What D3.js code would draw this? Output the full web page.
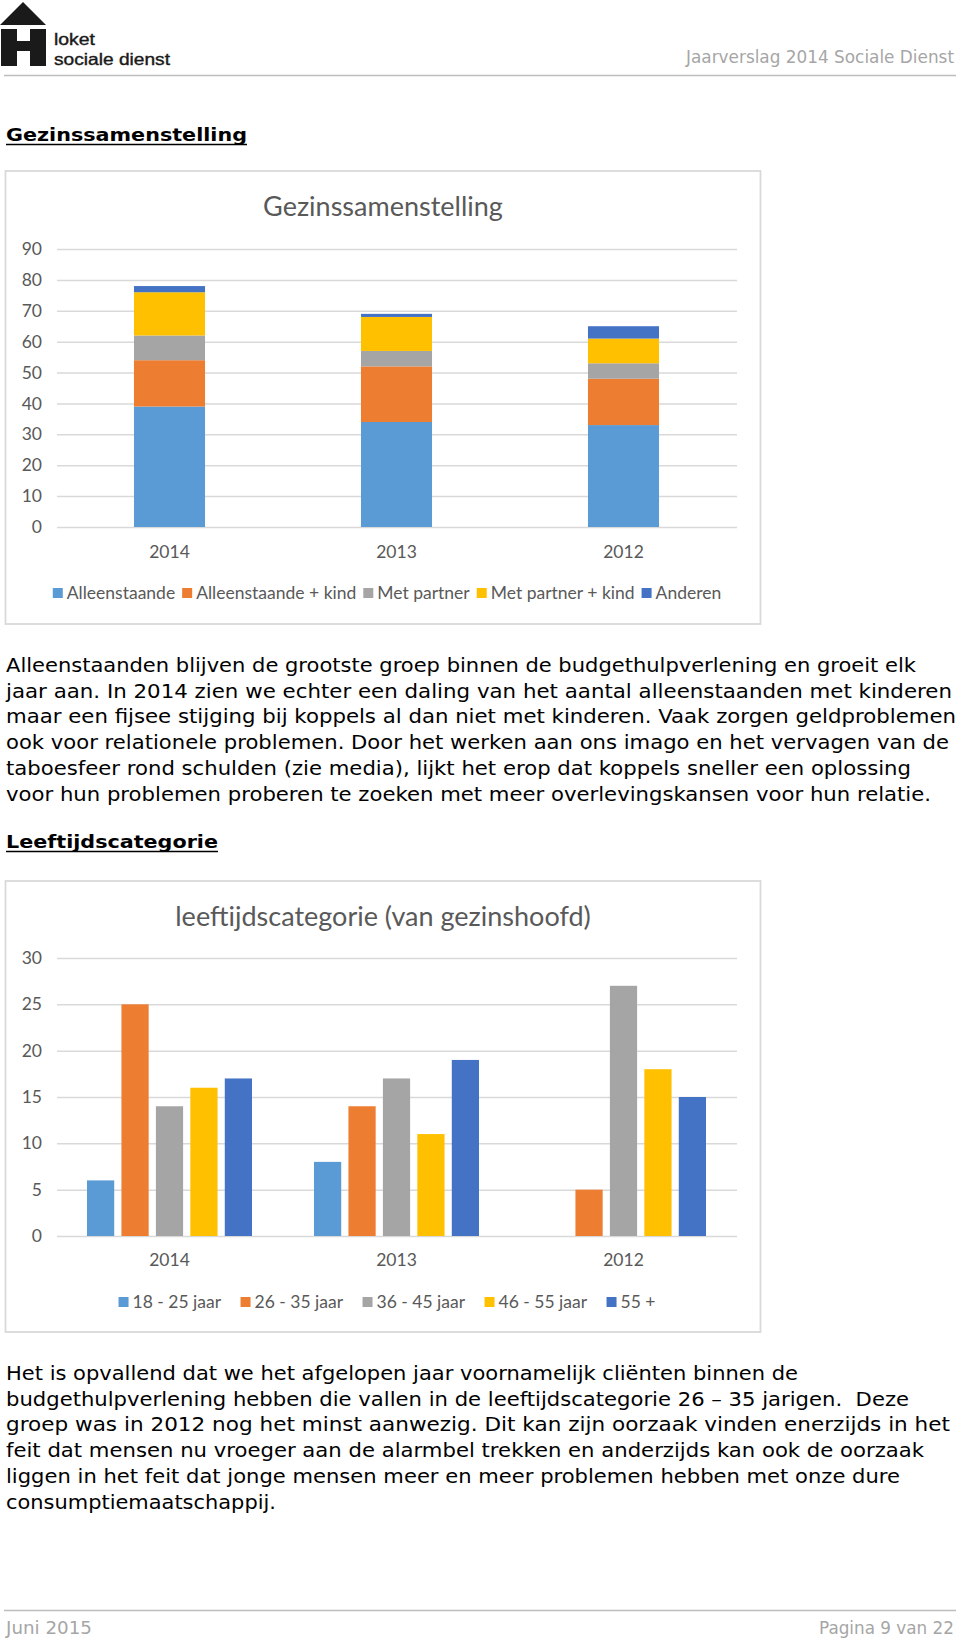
<!DOCTYPE html>
<html><head><meta charset="utf-8">
<script src="https://cdn.jsdelivr.net/npm/d3@7"></script>
<style>
html,body{margin:0;padding:0;background:#fff;}
svg{display:block;}
</style></head><body>
<svg id="page" width="960" height="1639"></svg>
<script>
// ---------- DATA ----------
const years = ["2014", "2013", "2012"];

const householdTypes = ["Alleenstaande", "Alleenstaande + kind", "Met partner", "Met partner + kind", "Anderen"];
const alleenstaande     = [39, 34, 33];
const alleenstaandeKind = [15, 18, 15];
const metPartner        = [8, 5, 5];
const metPartnerKind    = [14, 11, 8];
const anderen           = [2, 1, 4];
const householdTicks    = [0, 10, 20, 30, 40, 50, 60, 70, 80, 90];

const ageGroups = ["18 - 25 jaar", "26 - 35 jaar", "36 - 45 jaar", "46 - 55 jaar", "55 +"];
const age18to25 = [6, 8, 0];
const age26to35 = [25, 14, 5];
const age36to45 = [14, 17, 27];
const age46to55 = [16, 11, 18];
const age55plus = [17, 19, 15];
const ageTicks  = [0, 5, 10, 15, 20, 25, 30];

const seriesColors = ["#5B9BD5", "#ED7D31", "#A5A5A5", "#FFC000", "#4472C4"];

// ---------- PAGE TEXT ----------
const para1 = [
  ["Alleenstaanden blijven de grootste groep binnen de budgethulpverlening en groeit elk", 910],
  ["jaar aan. In 2014 zien we echter een daling van het aantal alleenstaanden met kinderen", 946],
  ["maar een fijsee stijging bij koppels al dan niet met kinderen. Vaak zorgen geldproblemen", 950],
  ["ook voor relationele problemen. Door het werken aan ons imago en het vervagen van de", 943],
  ["taboesfeer rond schulden (zie media), lijkt het erop dat koppels sneller een oplossing", 905],
  ["voor hun problemen proberen te zoeken met meer overlevingskansen voor hun relatie.", 925]
];
const para2 = [
  ["Het is opvallend dat we het afgelopen jaar voornamelijk cliënten binnen de", 792],
  ["budgethulpverlening hebben die vallen in de leeftijdscategorie 26 \u2013 35 jarigen.\u00a0 Deze", 903],
  ["groep was in 2012 nog het minst aanwezig. Dit kan zijn oorzaak vinden enerzijds in het", 944],
  ["feit dat mensen nu vroeger aan de alarmbel trekken en anderzijds kan ook de oorzaak", 918],
  ["liggen in het feit dat jonge mensen meer en meer problemen hebben met onze dure", 894],
  ["consumptiemaatschappij.", 270]
];

const svg = d3.select("#page");
svg.append("rect").attr("width", 960).attr("height", 1639).attr("fill", "#fff");

const BODY = "'DejaVu Sans', Verdana, sans-serif";
const CHART = "Lato, Calibri, 'Open Sans', sans-serif";

// ---------- HEADER ----------
const logo = svg.append("g").attr("fill", "#1a1a1a");
logo.append("path").attr("d", "M23,2 L46,25 L0,25 Z");
logo.append("path").attr("d", "M1,29 H17 V41 H30 V29 H46 V66 H30 V51 H17 V66 H1 Z");
logo.append("text").attr("x", 54).attr("y", 45).attr("font-family", "'Liberation Sans', Arial, sans-serif")
  .attr("font-size", 16.5).attr("stroke", "#1a1a1a").attr("stroke-width", 0.4)
  .attr("textLength", 41).attr("lengthAdjust", "spacingAndGlyphs").text("loket");
logo.append("text").attr("x", 54).attr("y", 64.5).attr("font-family", "'Liberation Sans', Arial, sans-serif")
  .attr("font-size", 16.5).attr("stroke", "#1a1a1a").attr("stroke-width", 0.4)
  .attr("textLength", 116).attr("lengthAdjust", "spacingAndGlyphs").text("sociale dienst");

svg.append("text").attr("x", 954).attr("y", 63).attr("text-anchor", "end")
  .attr("font-family", BODY).attr("font-size", 17).attr("fill", "#a6a6a6")
  .attr("textLength", 268).attr("lengthAdjust", "spacingAndGlyphs")
  .text("Jaarverslag 2014 Sociale Dienst");
svg.append("line").attr("x1", 4).attr("x2", 956).attr("y1", 75.5).attr("y2", 75.5)
  .attr("stroke", "#bdbdbd").attr("stroke-width", 1.5);

// ---------- HEADINGS / PARAGRAPHS ----------
function heading(text, y, width) {
  svg.append("text").attr("x", 6).attr("y", y).attr("font-family", BODY).attr("font-weight", "bold")
    .attr("font-size", 18.5).attr("fill", "#000")
    .attr("textLength", width).attr("lengthAdjust", "spacingAndGlyphs").text(text);
  svg.append("line").attr("x1", 6).attr("x2", 6 + width).attr("y1", y + 3.5).attr("y2", y + 3.5)
    .attr("stroke", "#000").attr("stroke-width", 1.6);
}
heading("Gezinssamenstelling", 141, 241);
heading("Leeftijdscategorie", 848, 212);

function paragraph(lines, y0) {
  lines.forEach((l, i) => {
    svg.append("text").attr("x", 6).attr("y", y0 + i * 25.7).attr("font-family", BODY)
      .attr("font-size", 19).attr("fill", "#000")
      .attr("textLength", l[1]).attr("lengthAdjust", "spacingAndGlyphs").text(l[0]);
  });
}
paragraph(para1, 672);
paragraph(para2, 1380);

// ---------- FOOTER ----------
svg.append("line").attr("x1", 4).attr("x2", 956).attr("y1", 1610.5).attr("y2", 1610.5)
  .attr("stroke", "#bdbdbd").attr("stroke-width", 1.5);
svg.append("text").attr("x", 6).attr("y", 1634).attr("font-family", BODY).attr("font-size", 17)
  .attr("fill", "#a6a6a6").attr("textLength", 86).attr("lengthAdjust", "spacingAndGlyphs").text("Juni 2015");
svg.append("text").attr("x", 954).attr("y", 1634).attr("text-anchor", "end").attr("font-family", BODY).attr("font-size", 17)
  .attr("fill", "#a6a6a6").attr("textLength", 135).attr("lengthAdjust", "spacingAndGlyphs").text("Pagina 9 van 22");

// ---------- CHART HELPERS ----------
const plotX0 = 57, plotX1 = 737;
const LBL = 17.5;

function frame(top, bottom, title, titleY) {
  svg.append("rect").attr("x", 5.5).attr("y", top).attr("width", 755).attr("height", bottom - top)
    .attr("fill", "#fff").attr("stroke", "#d9d9d9").attr("stroke-width", 1.8);
  svg.append("text").attr("x", 383).attr("y", titleY).attr("text-anchor", "middle")
    .attr("font-family", CHART).attr("font-size", 27).attr("fill", "#595959").text(title);
}

function axes(g, x, y, ticks, xLabelY) {
  const ya = g.append("g").attr("transform", `translate(${plotX0},0)`)
    .call(d3.axisLeft(y).tickValues(ticks).tickSize(-(plotX1 - plotX0)).tickPadding(15).tickFormat(d3.format("d")));
  ya.select(".domain").remove();
  ya.selectAll("line").attr("stroke", "#d9d9d9").attr("stroke-width", 1.5);
  ya.selectAll("text").attr("font-family", CHART).attr("font-size", LBL).attr("fill", "#595959");

  const xa = g.append("g").attr("transform", `translate(0,${y(0)})`)
    .call(d3.axisBottom(x).tickSize(0));
  xa.select(".domain").remove();
  xa.selectAll("text").attr("y", xLabelY - y(0)).attr("dy", 0)
    .attr("font-family", CHART).attr("font-size", LBL).attr("fill", "#595959");
}

function legend(g, names, cy, mode, slot) {
  const lg = g.append("g");
  const items = lg.selectAll("g").data(names).join("g");
  items.append("rect").attr("width", 10).attr("height", 10).attr("y", cy - 5)
    .attr("fill", (d, i) => seriesColors[i]);
  items.append("text").attr("x", 14).attr("y", cy + 6).attr("font-family", CHART)
    .attr("font-size", LBL).attr("fill", "#595959").text(d => d);
  const widths = [];
  items.each(function() { widths.push(14 + d3.select(this).select("text").node().getComputedTextLength()); });
  let pos = [], acc = 0;
  widths.forEach((w, i) => { pos.push(acc); acc += (mode === "fixed" ? slot : w + 7); });
  const total = mode === "fixed" ? slot * (names.length - 1) + widths[widths.length - 1] : acc - 7;
  const start = 387 - total / 2;
  items.attr("transform", (d, i) => `translate(${start + pos[i]},0)`);
}

// ---------- CHART 1: stacked ----------
{
  frame(171, 624, "Gezinssamenstelling", 216);
  const g = svg.append("g");
  const x = d3.scaleBand().domain(years).range([56, 737]).padding(0);
  const y = d3.scaleLinear().domain([0, 90]).range([527, 249]);
  axes(g, x, y, householdTicks, 558);

  const seriesArrays = [alleenstaande, alleenstaandeKind, metPartner, metPartnerKind, anderen];
  const rows = years.map((yr, i) => {
    const r = { year: yr };
    householdTypes.forEach((k, j) => r[k] = seriesArrays[j][i]);
    return r;
  });
  const stacked = d3.stack().keys(householdTypes)(rows);
  const bw = x.bandwidth() * 0.313;
  g.selectAll("g.s").data(stacked).join("g").attr("class", "s")
    .attr("fill", (d, i) => seriesColors[i])
    .selectAll("rect").data(d => d).join("rect")
    .attr("x", d => x(d.data.year) + x.bandwidth() / 2 - bw / 2)
    .attr("width", bw)
    .attr("y", d => y(d[1]))
    .attr("height", d => y(d[0]) - y(d[1]));
  legend(g, householdTypes, 593, "natural");
}

// ---------- CHART 2: grouped ----------
{
  frame(881, 1332, "leeftijdscategorie (van gezinshoofd)", 926);
  const g = svg.append("g");
  const x = d3.scaleBand().domain(years).range([56, 737]).padding(0);
  const y = d3.scaleLinear().domain([0, 30]).range([1236, 958]);
  axes(g, x, y, ageTicks, 1266);

  const seriesArrays = [age18to25, age26to35, age36to45, age46to55, age55plus];
  const inner = d3.scaleBand().domain(ageGroups).range([-82.5, 82.5]).paddingInner(0.21).paddingOuter(0);
  ageGroups.forEach((grp, j) => {
    g.append("g").attr("fill", seriesColors[j])
      .selectAll("rect").data(years.map((yr, i) => ({ year: yr, v: seriesArrays[j][i] })).filter(d => d.v > 0))
      .join("rect")
      .attr("x", d => x(d.year) + x.bandwidth() / 2 + inner(grp))
      .attr("width", inner.bandwidth())
      .attr("y", d => y(d.v))
      .attr("height", d => y(0) - y(d.v));
  });
  legend(g, ageGroups, 1302, "fixed", 122);
}
</script>
</body></html>
